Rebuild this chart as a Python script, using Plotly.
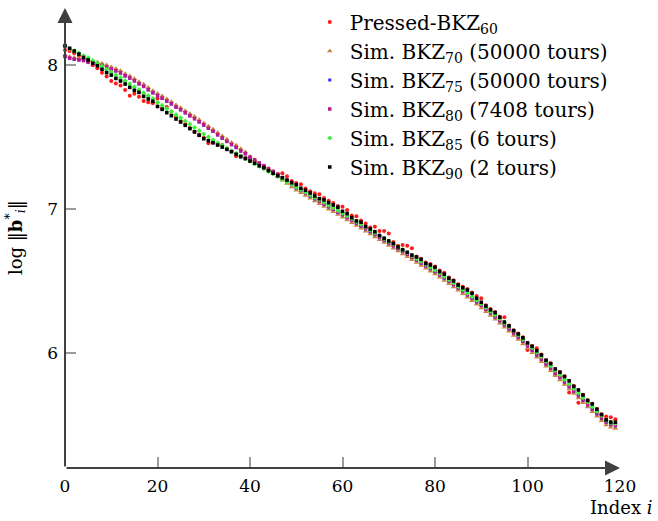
import plotly.graph_objects as go

index = list(range(120))

pressed_bkz60 = [
    8.104, 8.097, 8.082, 8.062, 8.041, 8.020, 7.998, 7.977, 7.946, 7.921,
    7.889, 7.872, 7.858, 7.826, 7.787, 7.800, 7.780, 7.750, 7.742, 7.735,
    7.768, 7.700, 7.708, 7.675, 7.640, 7.612, 7.590, 7.562, 7.537, 7.515,
    7.494, 7.456, 7.462, 7.452, 7.444, 7.420, 7.400, 7.366, 7.370, 7.356,
    7.345, 7.330, 7.312, 7.298, 7.278, 7.260, 7.243, 7.248, 7.228, 7.195,
    7.181, 7.171, 7.142, 7.124, 7.109, 7.102, 7.076, 7.058, 7.042, 7.021,
    7.015, 6.993, 6.955, 6.950, 6.920, 6.900, 6.872, 6.877, 6.847, 6.847,
    6.830, 6.770, 6.745, 6.750, 6.745, 6.727, 6.670, 6.655, 6.628, 6.618,
    6.600, 6.572, 6.557, 6.525, 6.505, 6.478, 6.460, 6.445, 6.420, 6.396,
    6.380, 6.332, 6.305, 6.285, 6.252, 6.248, 6.190, 6.158, 6.135, 6.110,
    6.021, 6.048, 6.033, 5.990, 5.950, 5.928, 5.847, 5.868, 5.838, 5.725,
    5.770, 5.655, 5.710, 5.672, 5.648, 5.611, 5.574, 5.558, 5.553, 5.540,
]

sim_bkz70 = [
    8.070, 8.058, 8.051, 8.046, 8.042, 8.038, 8.030, 8.020, 8.011, 8.000,
    7.986, 7.974, 7.960, 7.940, 7.924, 7.905, 7.884, 7.866, 7.843, 7.822,
    7.802, 7.784, 7.764, 7.745, 7.722, 7.704, 7.683, 7.662, 7.642, 7.620,
    7.598, 7.575, 7.554, 7.530, 7.507, 7.484, 7.462, 7.442, 7.418, 7.395,
    7.365, 7.342, 7.316, 7.293, 7.270, 7.247, 7.224, 7.200, 7.177, 7.153,
    7.131, 7.112, 7.093, 7.074, 7.055, 7.036, 7.018, 6.999, 6.980, 6.961,
    6.943, 6.924, 6.905, 6.885, 6.866, 6.846, 6.826, 6.806, 6.787, 6.767,
    6.747, 6.728, 6.708, 6.688, 6.668, 6.648, 6.628, 6.608, 6.588, 6.568,
    6.548, 6.526, 6.504, 6.481, 6.458, 6.435, 6.411, 6.387, 6.363, 6.338,
    6.313, 6.287, 6.261, 6.234, 6.207, 6.179, 6.151, 6.122, 6.093, 6.063,
    6.033, 6.002, 5.970, 5.939, 5.907, 5.876, 5.844, 5.813, 5.781, 5.750,
    5.718, 5.687, 5.655, 5.624, 5.592, 5.561, 5.529, 5.500, 5.484, 5.476,
]

sim_bkz75 = [
    8.058, 8.046, 8.039, 8.034, 8.030, 8.022, 8.014, 8.004, 7.995, 7.984,
    7.970, 7.958, 7.944, 7.924, 7.908, 7.889, 7.868, 7.850, 7.827, 7.806,
    7.786, 7.768, 7.748, 7.729, 7.706, 7.688, 7.667, 7.646, 7.626, 7.604,
    7.582, 7.559, 7.538, 7.514, 7.491, 7.468, 7.446, 7.426, 7.402, 7.383,
    7.358, 7.340, 7.318, 7.299, 7.279, 7.259, 7.238, 7.216, 7.193, 7.169,
    7.147, 7.128, 7.109, 7.090, 7.071, 7.052, 7.034, 7.015, 6.996, 6.977,
    6.959, 6.940, 6.921, 6.901, 6.882, 6.862, 6.842, 6.822, 6.803, 6.783,
    6.763, 6.744, 6.724, 6.704, 6.684, 6.664, 6.644, 6.624, 6.604, 6.584,
    6.564, 6.542, 6.520, 6.497, 6.474, 6.451, 6.427, 6.403, 6.379, 6.354,
    6.329, 6.303, 6.277, 6.250, 6.223, 6.195, 6.167, 6.138, 6.109, 6.079,
    6.049, 6.018, 5.986, 5.955, 5.923, 5.892, 5.860, 5.829, 5.797, 5.766,
    5.734, 5.703, 5.671, 5.640, 5.608, 5.577, 5.545, 5.518, 5.502, 5.494,
]

sim_bkz80 = [
    8.060, 8.048, 8.041, 8.036, 8.032, 8.024, 8.016, 8.006, 7.997, 7.986,
    7.972, 7.960, 7.946, 7.926, 7.910, 7.891, 7.870, 7.852, 7.829, 7.808,
    7.788, 7.770, 7.750, 7.731, 7.708, 7.690, 7.669, 7.648, 7.628, 7.606,
    7.584, 7.561, 7.540, 7.516, 7.493, 7.470, 7.448, 7.428, 7.404, 7.385,
    7.360, 7.342, 7.320, 7.301, 7.281, 7.261, 7.240, 7.218, 7.195, 7.171,
    7.149, 7.130, 7.111, 7.092, 7.073, 7.054, 7.036, 7.017, 6.998, 6.979,
    6.961, 6.942, 6.923, 6.903, 6.884, 6.864, 6.844, 6.824, 6.805, 6.785,
    6.765, 6.746, 6.726, 6.706, 6.686, 6.666, 6.646, 6.626, 6.606, 6.586,
    6.566, 6.544, 6.522, 6.499, 6.476, 6.453, 6.429, 6.405, 6.381, 6.356,
    6.331, 6.305, 6.279, 6.252, 6.225, 6.197, 6.169, 6.140, 6.111, 6.081,
    6.051, 6.020, 5.988, 5.957, 5.925, 5.894, 5.862, 5.831, 5.799, 5.768,
    5.736, 5.705, 5.673, 5.642, 5.610, 5.579, 5.547, 5.520, 5.504, 5.496,
]

sim_bkz85 = [
    8.128, 8.112, 8.098, 8.082, 8.064, 8.050, 8.030, 8.013, 7.992, 7.970,
    7.952, 7.931, 7.912, 7.890, 7.869, 7.848, 7.828, 7.806, 7.786, 7.766,
    7.740, 7.719, 7.697, 7.676, 7.654, 7.633, 7.611, 7.589, 7.566, 7.544,
    7.521, 7.500, 7.480, 7.460, 7.441, 7.422, 7.403, 7.385, 7.366, 7.349,
    7.332, 7.315, 7.297, 7.279, 7.261, 7.243, 7.225, 7.207, 7.189, 7.171,
    7.153, 7.135, 7.116, 7.098, 7.080, 7.064, 7.046, 7.027, 7.008, 6.989,
    6.971, 6.952, 6.933, 6.913, 6.894, 6.874, 6.854, 6.834, 6.815, 6.795,
    6.775, 6.756, 6.736, 6.716, 6.696, 6.676, 6.656, 6.636, 6.616, 6.596,
    6.576, 6.554, 6.532, 6.509, 6.486, 6.463, 6.439, 6.415, 6.391, 6.366,
    6.341, 6.316, 6.290, 6.264, 6.238, 6.210, 6.183, 6.154, 6.126, 6.096,
    6.067, 6.037, 6.005, 5.974, 5.942, 5.911, 5.879, 5.848, 5.816, 5.785,
    5.753, 5.722, 5.690, 5.659, 5.627, 5.596, 5.564, 5.533, 5.517, 5.510,
]

sim_bkz90 = [
    8.134, 8.116, 8.097, 8.076, 8.052, 8.035, 8.012, 7.995, 7.970, 7.947,
    7.930, 7.907, 7.889, 7.868, 7.845, 7.824, 7.810, 7.782, 7.764, 7.748,
    7.712, 7.692, 7.669, 7.648, 7.625, 7.604, 7.581, 7.558, 7.535, 7.512,
    7.488, 7.474, 7.460, 7.444, 7.430, 7.414, 7.398, 7.380, 7.363, 7.350,
    7.333, 7.317, 7.300, 7.287, 7.266, 7.248, 7.231, 7.217, 7.201, 7.183,
    7.169, 7.144, 7.130, 7.111, 7.090, 7.072, 7.063, 7.044, 7.028, 7.012,
    6.984, 6.968, 6.940, 6.917, 6.908, 6.878, 6.861, 6.842, 6.815, 6.797,
    6.778, 6.760, 6.736, 6.717, 6.699, 6.680, 6.667, 6.650, 6.622, 6.611,
    6.595, 6.565, 6.547, 6.519, 6.500, 6.472, 6.453, 6.437, 6.414, 6.380,
    6.352, 6.326, 6.299, 6.280, 6.248, 6.215, 6.188, 6.155, 6.132, 6.105,
    6.070, 6.046, 6.016, 5.986, 5.949, 5.926, 5.889, 5.866, 5.836, 5.806,
    5.768, 5.743, 5.708, 5.670, 5.646, 5.609, 5.572, 5.535, 5.520, 5.519,
]

series_names = [
    "Pressed-BKZ<sub>60</sub>",
    "Sim. BKZ<sub>70</sub> (50000 tours)",
    "Sim. BKZ<sub>75</sub> (50000 tours)",
    "Sim. BKZ<sub>80</sub> (7408 tours)",
    "Sim. BKZ<sub>85</sub> (6 tours)",
    "Sim. BKZ<sub>90</sub> (2 tours)",
]
series_values = [pressed_bkz60, sim_bkz70, sim_bkz75, sim_bkz80, sim_bkz85, sim_bkz90]
series_colors = ["#ff1a1a", "#c8833f", "#2b2bff", "#b8198f", "#3cf03c", "#000000"]
series_symbols = ["circle", "triangle-up", "square", "square", "diamond", "square"]
series_sizes = [4, 5, 3, 3.5, 4, 3.6]

x_ticks = [0, 20, 40, 60, 80, 100, 120]
y_ticks = [6, 7, 8]
x_range = [0, 120]
y_range = [5.201, 8.396]

FONT = "DejaVu Serif"
AXIS_COLOR = "#404040"

fig = go.Figure()
for name, vals, col, sym, sz in zip(series_names, series_values, series_colors,
                                     series_symbols, series_sizes):
    fig.add_trace(go.Scatter(
        x=index, y=vals, mode="markers", name=name,
        marker=dict(color=col, symbol=sym, size=sz, line=dict(width=0)),
        cliponaxis=False,
    ))

axis_common = dict(
    showgrid=False, zeroline=False, showline=False, automargin=False,
    ticks="inside", ticklen=11, tickwidth=1.5, tickcolor="#9a9a9a",
    tickfont=dict(family=FONT, size=17, color="black"),
    ticklabelstandoff=6,
)
fig.update_xaxes(range=x_range, tickvals=x_ticks, **axis_common)
fig.update_yaxes(range=y_range, tickvals=y_ticks, **axis_common)

# arrowed axis lines
fig.add_annotation(x=x_range[0], y=y_range[1], ax=x_range[0], ay=y_range[0],
                   xref="x", yref="y", axref="x", ayref="y", text="",
                   showarrow=True, arrowhead=2, arrowsize=1.5, arrowwidth=2,
                   arrowcolor=AXIS_COLOR, standoff=0)
fig.add_annotation(x=x_range[1], y=y_range[0], ax=x_range[0], ay=y_range[0],
                   xref="x", yref="y", axref="x", ayref="y", text="",
                   showarrow=True, arrowhead=2, arrowsize=1.5, arrowwidth=2,
                   arrowcolor=AXIS_COLOR, standoff=0)

fig.add_annotation(x=1.063, y=-0.085, xref="paper", yref="paper",
                   text="Index <i>i</i>", showarrow=False,
                   xanchor="right", yanchor="middle",
                   font=dict(family=FONT, size=18, color="black"))
fig.add_annotation(x=-0.09, y=0.5, xref="paper", yref="paper",
                   text="log ‖<b>b</b><sup>*</sup><sub><i>i</i></sub>‖",
                   showarrow=False, textangle=-90,
                   xanchor="center", yanchor="middle",
                   font=dict(family=FONT, size=18, color="black"))

fig.update_layout(
    width=658, height=521,
    margin=dict(l=65, r=38, t=8, b=53, autoexpand=False),
    paper_bgcolor="white", plot_bgcolor="white",
    showlegend=True,
    legend=dict(x=0.441, y=1.012, xanchor="left", yanchor="top",
                font=dict(family=FONT, size=20, color="black"),
                bgcolor="rgba(255,255,255,0)", itemwidth=30,
                tracegroupgap=0),
)

fig.write_html("out.html",
               config={"displayModeBar": False},
               post_script="document.body.style.margin='0';"
                           "document.body.style.padding='0';")
